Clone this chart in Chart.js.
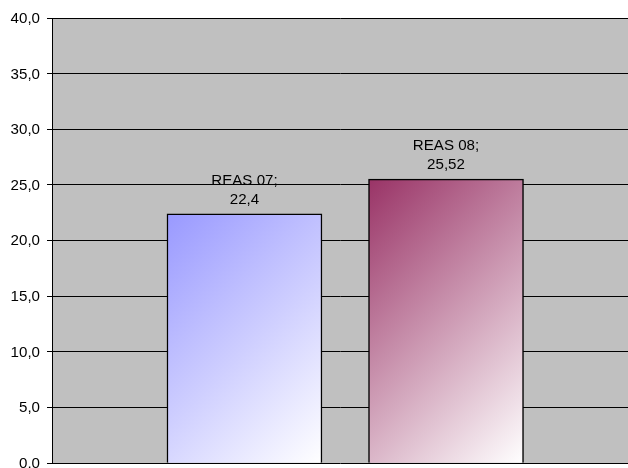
<!DOCTYPE html>
<html>
<head>
<meta charset="utf-8">
<script src="https://cdn.jsdelivr.net/npm/chart.js@4/dist/chart.umd.min.js"></script>
<style>
  html, body { margin: 0; padding: 0; background: #fff; overflow: hidden; }
  #wrap { width: 628px; height: 477px; position: relative; }
</style>
</head>
<body>
<div id="wrap"><canvas id="chart"></canvas></div>
<script>
const categories = ['REAS 07', 'REAS 08'];
const positions = [1, 2];
const values = [22.4, 25.52];
const valueLabels = ['22,4', '25,52'];
const gradientStart = ['#9999FF', '#993366'];
const yTicks = [0, 5, 10, 15, 20, 25, 30, 35, 40];

const BAR_WIDTH = 155;
const FONT = '14px "Liberation Sans", Arial, sans-serif';
const STRETCH = 1.08; // the original text is drawn a bit wide

function wideText(ctx, text, x, y, align) {
    ctx.save();
    ctx.translate(x, y);
    ctx.scale(STRETCH, 1);
    ctx.textAlign = align;
    ctx.fillText(text, 0, 0);
    ctx.restore();
}

// plot area background
const plotBackground = {
    id: 'plotBackground',
    beforeDraw(chart) {
        const { ctx, chartArea } = chart;
        ctx.save();
        ctx.fillStyle = '#C0C0C0';
        ctx.fillRect(chartArea.left, chartArea.top, chartArea.right - chartArea.left, chartArea.bottom - chartArea.top);
        ctx.restore();
    }
};

// y tick labels and "REAS 07;" / "22,4" above each bar
const textLabels = {
    id: 'textLabels',
    afterDatasetsDraw(chart) {
        const { ctx } = chart;
        const ys = chart.scales.y;
        ctx.save();
        ctx.font = FONT;
        ctx.fillStyle = '#000';

        ctx.textBaseline = 'middle';
        yTicks.forEach(v => {
            wideText(ctx, v.toFixed(1).replace('.', ','), ys.left + ys.width - 12, ys.getPixelForValue(v) + 1, 'right');
        });

        ctx.textBaseline = 'alphabetic';
        const meta = chart.getDatasetMeta(0);
        meta.data.forEach((bar, i) => {
            wideText(ctx, categories[i] + ';', bar.x, bar.y - 29, 'center');
            wideText(ctx, valueLabels[i], bar.x, bar.y - 10, 'center');
        });
        ctx.restore();
    }
};

// diagonal (45deg) fade from the top-left colour to white
function barGradient(context) {
    const chart = context.chart;
    if (!chart.chartArea || context.type !== 'data') return gradientStart[0];
    const xs = chart.scales.x;
    const ys = chart.scales.y;
    const cx = xs.getPixelForValue(context.raw.x);
    const left = cx - BAR_WIDTH / 2;
    const top = ys.getPixelForValue(context.raw.y);
    const bottom = ys.getPixelForValue(0);
    const d = (BAR_WIDTH + (bottom - top)) / 2;
    const g = chart.ctx.createLinearGradient(left, top, left + d, top + d);
    g.addColorStop(0, gradientStart[context.dataIndex]);
    g.addColorStop(1, '#FFFFFF');
    return g;
}

new Chart(document.getElementById('chart'), {
    type: 'bar',
    data: {
        datasets: [{
            data: positions.map((p, i) => ({ x: p, y: values[i] })),
            backgroundColor: barGradient,
            borderColor: '#000',
            borderWidth: 1.5,
            barThickness: BAR_WIDTH
        }]
    },
    options: {
        responsive: true,
        maintainAspectRatio: false,
        animation: false,
        layout: { padding: { top: 18, bottom: 0, left: 0, right: 0 } },
        plugins: {
            legend: { display: false },
            tooltip: { enabled: false }
        },
        scales: {
            x: {
                type: 'linear',
                min: 0.045,
                max: 2.903,
                display: false,
                offset: false
            },
            y: {
                min: 0,
                max: 40,
                afterBuildTicks: (scale) => {
                    scale.ticks = yTicks.map(v => ({ value: v }));
                },
                afterFit: (scale) => { scale.width = 52; },
                grid: {
                    color: '#000',
                    lineWidth: 1,
                    tickLength: 5,
                    drawTicks: true
                },
                border: { color: '#000', width: 1 },
                ticks: {
                    color: 'transparent', // drawn by textLabels
                    padding: 6,
                    font: { family: '"Liberation Sans", Arial, sans-serif', size: 13 },
                    callback: (v) => v.toFixed(1).replace('.', ',')
                }
            }
        }
    },
    plugins: [plotBackground, textLabels]
});
</script>
</body>
</html>
